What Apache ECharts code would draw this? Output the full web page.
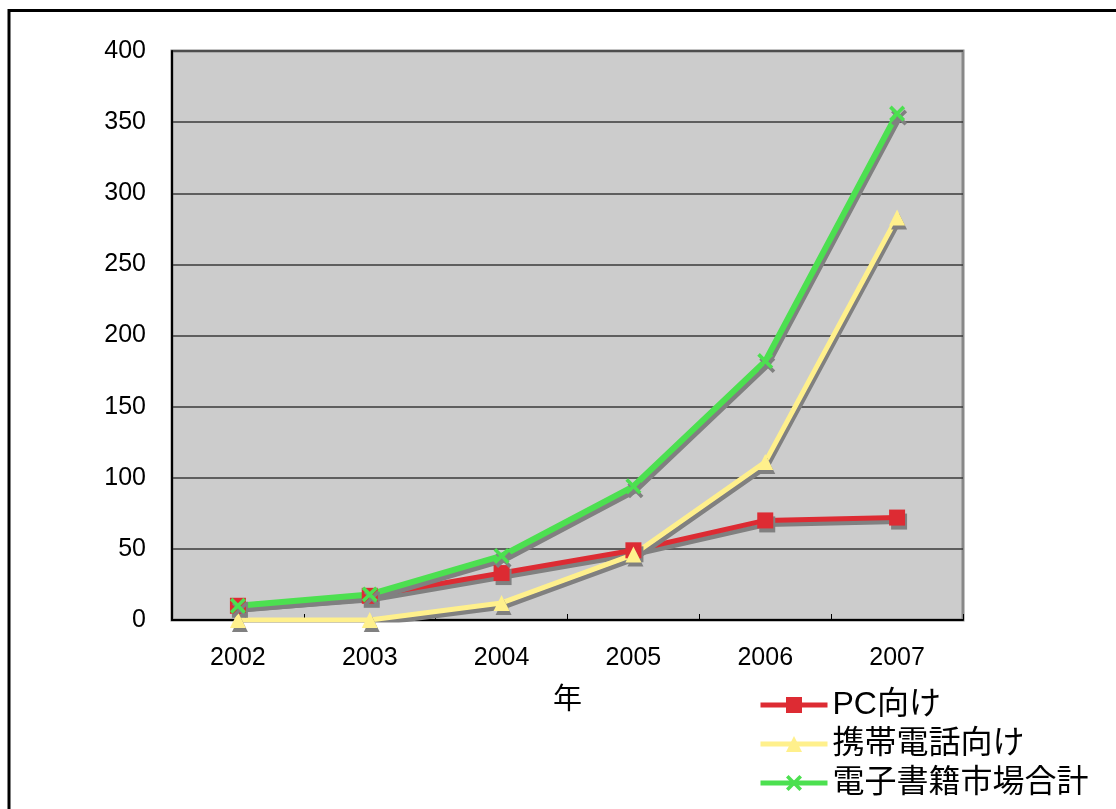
<!DOCTYPE html>
<html>
<head>
<meta charset="utf-8">
<script src="https://cdn.jsdelivr.net/npm/echarts@6/dist/echarts.min.js"></script>
<style>
  html, body { margin: 0; padding: 0; background: #fff; }
  #chart { width: 1116px; height: 809px; }
</style>
</head>
<body>
<div id="chart"></div>
<script>
// 年ごとの電子書籍市場規模
const years = ['2002', '2003', '2004', '2005', '2006', '2007'];
const pcValues = [10, 17, 33, 49, 70, 72];
const mobileValues = [0, 0, 12, 46, 111, 283];
const totalValues = [10, 18, 45, 94, 182, 356];

const font = "'Liberation Sans', 'Noto Sans CJK JP', sans-serif";
const shadow = { shadowColor: '#808080', shadowBlur: 0, shadowOffsetX: 2, shadowOffsetY: 4 };
const crossPath = 'path://M0,1.6L1.6,0L5,3.4L8.4,0L10,1.6L6.6,5L10,8.4L8.4,10L5,6.6L1.6,10L0,8.4L3.4,5Z';

function makeSeries(name, data, color, symbol, size, width) {
    return {
        name: name,
        type: 'line',
        data: data,
        symbol: symbol,
        symbolSize: size,
        showAllSymbol: true,
        lineStyle: Object.assign({ color: color, width: width }, shadow),
        itemStyle: Object.assign({ color: color }, shadow),
        emphasis: { disabled: true }
    };
}

const options = {
    animation: false,
    backgroundColor: '#fff',
    graphic: [{
        type: 'rect',
        shape: { x: 9, y: 10.5, width: 1200, height: 900 },
        style: { fill: 'none', stroke: '#000', lineWidth: 3 },
        silent: true
    }],
    grid: {
        left: 172, top: 51, right: 153, bottom: 189,
        show: true,
        backgroundColor: '#cccccc',
        borderColor: '#888',
        borderWidth: 3
    },
    legend: {
        orient: 'vertical',
        left: 753,
        top: 684,
        itemWidth: 67,
        itemHeight: 20,
        itemGap: 7,
        textStyle: { fontSize: 32, fontFamily: font, color: '#000' },
        itemStyle: { shadowColor: 'transparent', shadowOffsetX: 0, shadowOffsetY: 0 },
        lineStyle: { width: 5, shadowColor: 'transparent', shadowOffsetX: 0, shadowOffsetY: 0 },
        data: ['PC向け', '携帯電話向け', '電子書籍市場合計']
    },
    xAxis: {
        type: 'category',
        data: years,
        boundaryGap: true,
        name: '年',
        nameLocation: 'middle',
        nameGap: 66,
        nameTextStyle: { fontSize: 29, fontFamily: font, color: '#000' },
        axisLine: { lineStyle: { color: '#000', width: 2 } },
        axisTick: { show: true, inside: true, length: 6, interval: 0, lineStyle: { color: '#000' } },
        axisLabel: { fontSize: 25, fontFamily: font, color: '#000', margin: 26 }
    },
    yAxis: {
        type: 'value',
        min: 0,
        max: 400,
        interval: 50,
        axisLine: { show: true, lineStyle: { color: '#000', width: 2 } },
        axisTick: { show: false },
        axisLabel: { fontSize: 25, fontFamily: font, color: '#000', margin: 26 },
        splitLine: { lineStyle: { color: '#3a3a3a', width: 1.5 } }
    },
    series: [
        makeSeries('PC向け', pcValues, '#dd2b33', 'rect', 16, 5),
        makeSeries('携帯電話向け', mobileValues, '#fff08c', 'triangle', 16, 5),
        makeSeries('電子書籍市場合計', totalValues, '#4ce050', crossPath, 16, 6)
    ]
};

const E = echarts.init(document.getElementById('chart'));
window.onresize = function () {
    E.resize();
};
E.setOption(options);
</script>
</body>
</html>
